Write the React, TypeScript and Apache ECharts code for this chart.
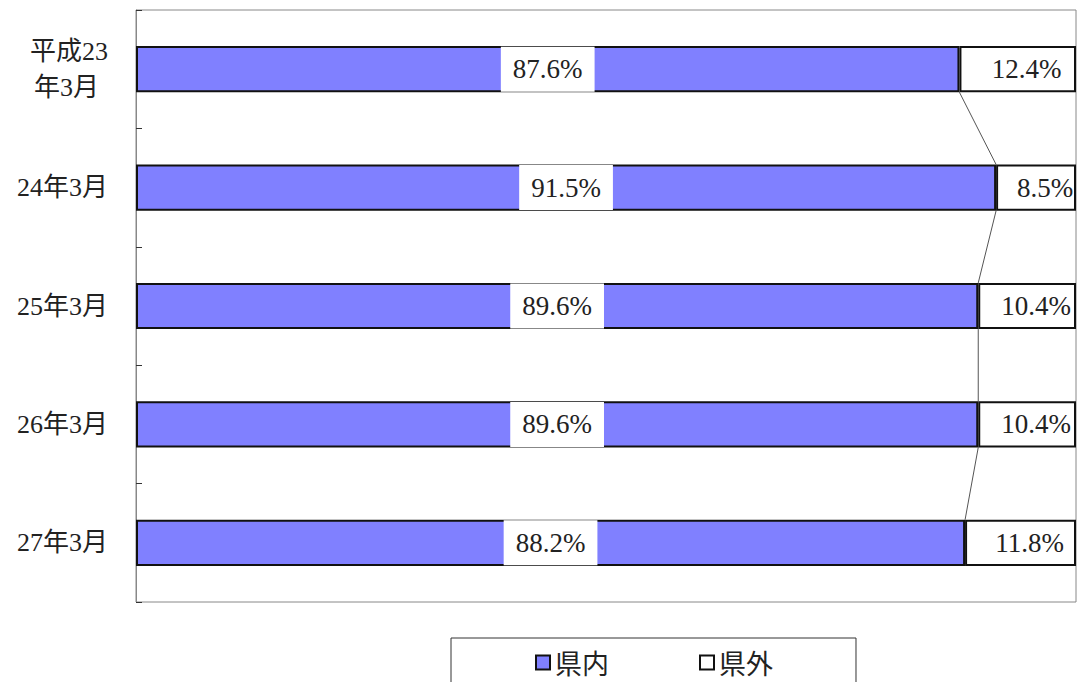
import React, { useEffect, useRef } from "react";
import * as echarts from "echarts";

const categories = ["平成23\n年3月", "24年3月", "25年3月", "26年3月", "27年3月"];
const inPref = [87.6, 91.5, 89.6, 89.6, 88.2];
const outPref = [12.4, 8.5, 10.4, 10.4, 11.8];
const seriesNames = ["県内", "県外"];

const BAR_RATIO = 0.39;
const SERIF = "'Liberation Serif', 'DejaVu Serif', 'Noto Sans CJK JP', serif";

export default function App() {
  const ref = useRef<HTMLDivElement>(null);
  useEffect(() => {
    if (!ref.current) return;
    const chart = echarts.init(ref.current, undefined, { renderer: "svg" });
    const linkData = inPref.slice(0, -1).map((v, i) => [v, i, inPref[i + 1], i + 1]);
    const labelText = { fontSize: 26, color: "#222", fontFamily: SERIF, lineHeight: 36 };
    chart.setOption({
      animation: false,
      backgroundColor: "#ffffff",
      grid: {
        left: 136,
        right: 11,
        top: 10,
        bottom: 80,
        show: true,
        borderColor: "#888888",
        borderWidth: 1,
        backgroundColor: "transparent",
      },
      legend: {
        data: seriesNames,
        left: 451,
        top: 638,
        padding: [11, 83, 40, 84],
        itemWidth: 14,
        itemHeight: 14,
        itemGap: 90,
        borderColor: "#333333",
        borderWidth: 1,
        icon: "rect",
        textStyle: { fontSize: 27, color: "#222", fontFamily: "'Noto Sans CJK JP', sans-serif" },
      },
      xAxis: {
        type: "value",
        min: 0,
        max: 100,
        show: false,
      },
      yAxis: {
        type: "category",
        data: categories,
        inverse: true,
        axisLine: { show: true, lineStyle: { color: "#888888" } },
        axisTick: { show: true, inside: true, length: 6, lineStyle: { color: "#333" } },
        axisLabel: {
          ...labelText,
          margin: 28,
          formatter: (v: string) => {
            const parts = v.split("\n");
            if (parts.length === 1) return "{a|" + v + "}";
            return "{a|" + parts[0] + "}\n{b|" + parts[1] + "}";
          },
          rich: {
            a: { ...labelText },
            b: { ...labelText, padding: [0, 9, 0, 0] },
          },
        },
      },
      series: [
        {
          name: seriesNames[0],
          type: "bar",
          stack: "total",
          data: inPref,
          barWidth: BAR_RATIO * 100 + "%",
          itemStyle: { color: "#8080ff", borderColor: "#111", borderWidth: 2 },
          label: {
            show: true,
            position: "inside",
            formatter: (p: any) => p.value.toFixed(1) + "%",
            fontSize: 27,
            fontFamily: SERIF,
            color: "#222",
            backgroundColor: "#ffffff",
            padding: [9, 12, 9, 12],
          },
        },
        {
          name: seriesNames[1],
          type: "bar",
          stack: "total",
          data: outPref,
          itemStyle: { color: "#ffffff", borderColor: "#111", borderWidth: 2 },
          label: {
            show: true,
            position: "inside",
            offset: [9, 0],
            formatter: (p: any) => p.value.toFixed(1) + "%",
            fontSize: 27,
            fontFamily: SERIF,
            color: "#222",
          },
        },
        {
          type: "custom",
          name: "series-lines",
          silent: true,
          z: 1,
          data: linkData,
          encode: { x: [0, 2], y: [1, 3] },
          renderItem: (params: any, api: any) => {
            const a = api.coord([api.value(0), api.value(1)]);
            const b = api.coord([api.value(2), api.value(3)]);
            const band = api.size([0, 1])[1];
            const half = (band * BAR_RATIO) / 2;
            return {
              type: "line",
              shape: { x1: a[0], y1: a[1] + half, x2: b[0], y2: b[1] - half },
              style: { stroke: "#555", lineWidth: 1 },
            };
          },
        },
      ],
    });
    return () => chart.dispose();
  }, []);
  return (
    <div
      ref={ref}
      style={{ position: "fixed", left: 0, top: 0, width: 1087, height: 682 }}
    />
  );
}
